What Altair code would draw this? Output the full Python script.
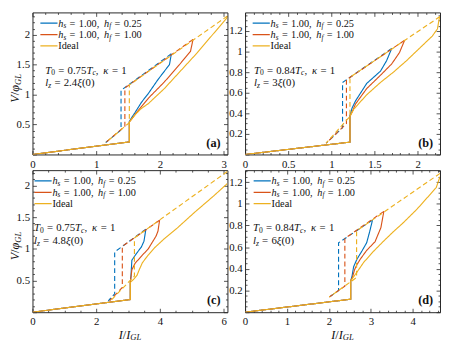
import altair as alt
import pandas as pd

# ---------------- data ----------------
# panel (a)  T0 = 0.75Tc, lz = 2.4 xi(0)
A_BLUE_I = [0, 1.52, 1.52, 1.56, 1.61, 1.71, 1.82, 1.97, 2.15, 2.18]
A_BLUE_V = [0, 0.21, 0.55, 0.62, 0.70, 0.87, 1.02, 1.25, 1.50, 1.68]
A_RED_I = [0, 1.52, 1.52, 1.57, 1.62, 1.71, 1.82, 2.07, 2.30, 2.48, 2.52]
A_RED_V = [0, 0.21, 0.54, 0.61, 0.68, 0.80, 0.94, 1.21, 1.49, 1.72, 1.92]
A_IDEAL_I = [0, 1.52, 1.52, 1.60, 1.70, 1.82, 2.07, 2.58, 3.06]
A_IDEAL_V = [0, 0.21, 0.54, 0.65, 0.76, 0.85, 1.10, 1.69, 2.29]
A_BLUE_DASH_I = [2.18, 1.39, 1.39, 1.15]
A_BLUE_DASH_V = [1.68, 1.07, 0.41, 0.20]
A_RED_DASH_I = [2.52, 1.45, 1.45, 1.15]
A_RED_DASH_V = [1.92, 1.11, 0.47, 0.20]
A_IDEAL_DASH_I = [3.06, 1.52, 1.52, 1.15]
A_IDEAL_DASH_V = [2.31, 1.16, 0.53, 0.20]

# panel (b)  T0 = 0.84Tc, lz = 3 xi(0)
B_BLUE_I = [0, 1.216, 1.216, 1.24, 1.28, 1.41, 1.57, 1.64, 1.70]
B_BLUE_V = [0, 0.12, 0.38, 0.45, 0.52, 0.69, 0.81, 0.91, 1.03]
B_RED_I = [0, 1.216, 1.216, 1.25, 1.28, 1.41, 1.57, 1.70, 1.79, 1.85]
B_RED_V = [0, 0.12, 0.37, 0.43, 0.49, 0.64, 0.77, 0.88, 0.99, 1.11]
B_IDEAL_I = [0, 1.216, 1.216, 1.26, 1.41, 1.57, 1.72, 1.87, 2.02, 2.17, 2.23, 2.255]
B_IDEAL_V = [0, 0.12, 0.37, 0.44, 0.58, 0.70, 0.80, 0.91, 1.03, 1.15, 1.22, 1.34]
B_BLUE_DASH_I = [1.70, 1.13, 1.13, 0.94]
B_BLUE_DASH_V = [1.03, 0.70, 0.26, 0.11]
B_RED_DASH_I = [1.85, 1.175, 1.175, 0.94]
B_RED_DASH_V = [1.11, 0.725, 0.30, 0.11]
B_IDEAL_DASH_I = [2.26, 1.216, 1.216, 0.94]
B_IDEAL_DASH_V = [1.34, 0.75, 0.37, 0.11]

# panel (c)  T0 = 0.75Tc, lz = 4.8 xi(0)
C_BLUE_I = [0, 3.07, 3.07, 3.09, 3.12, 3.27, 3.42, 3.50, 3.56]
C_BLUE_V = [0, 0.20, 0.47, 0.56, 0.82, 0.93, 1.03, 1.12, 1.31]
C_RED_I = [0, 3.07, 3.07, 3.09, 3.12, 3.22, 3.43, 3.63, 3.88, 3.94, 3.99]
C_RED_V = [0, 0.20, 0.47, 0.55, 0.67, 0.77, 0.89, 0.995, 1.20, 1.28, 1.45]
C_IDEAL_I = [0, 3.07, 3.07, 3.18, 3.28, 3.36, 3.45, 3.63, 3.84, 4.14, 4.55, 5.10, 5.68, 6.12]
C_IDEAL_V = [0, 0.20, 0.47, 0.52, 0.58, 0.68, 0.78, 0.90, 1.02, 1.16, 1.33, 1.58, 1.83, 2.03]
C_BLUE_DASH_I = [3.56, 2.58, 2.58, 2.38]
C_BLUE_DASH_V = [1.31, 0.95, 0.29, 0.18]
C_RED_DASH_I = [3.99, 2.82, 2.82, 2.42]
C_RED_DASH_V = [1.45, 1.04, 0.39, 0.18]
C_IDEAL_DASH_I = [6.12, 3.20, 3.20, 2.45]
C_IDEAL_DASH_V = [2.22, 1.17, 0.57, 0.18]

# panel (d)  T0 = 0.84Tc, lz = 6 xi(0)
D_BLUE_I = [0, 2.52, 2.52, 2.55, 2.59, 2.67, 2.79, 2.90, 2.97, 3.04]
D_BLUE_V = [0, 0.12, 0.29, 0.33, 0.42, 0.49, 0.566, 0.64, 0.74, 0.85]
D_RED_I = [0, 2.52, 2.52, 2.56, 2.61, 2.67, 2.75, 2.90, 3.10, 3.24, 3.31]
D_RED_V = [0, 0.12, 0.29, 0.32, 0.39, 0.44, 0.49, 0.57, 0.65, 0.78, 0.93]
D_IDEAL_I = [0, 2.52, 2.52, 2.67, 2.83, 3.06, 3.29, 3.53, 3.76, 4.10, 4.40, 4.56, 4.65]
D_IDEAL_V = [0, 0.12, 0.29, 0.37, 0.46, 0.56, 0.65, 0.74, 0.82, 0.95, 1.08, 1.15, 1.25]
D_BLUE_DASH_I = [3.04, 2.23, 2.23, 2.01]
D_BLUE_DASH_V = [0.85, 0.64, 0.20, 0.14]
D_RED_DASH_I = [3.31, 2.38, 2.38, 2.01]
D_RED_DASH_V = [0.93, 0.68, 0.24, 0.14]
D_IDEAL_DASH_I = [4.65, 2.66, 2.66, 2.01]
D_IDEAL_DASH_V = [1.28, 0.75, 0.32, 0.14]

SERIES = ["blue", "red", "ideal"]
COLORS = ["#0072BD", "#D95319", "#EDB120"]

# ---------------- styling ----------------
W, H = 199, 145
FONT = "Liberation Serif"
TXT = "#111111"
AX = "#262626"
ONE = alt.Data(values=[{}])
SUBDROP = 0.15

WID = {
    "r": {" ": 0.25, "=": 0.564, ".": 0.25, ",": 0.25, "(": 0.333, ")": 0.333,
          "/": 0.278, "I": 0.333, "d": 0.5, "e": 0.444, "a": 0.444, "l": 0.278},
    "i": {"h": 0.5, "s": 0.389, "f": 0.278, "T": 0.556, "c": 0.444, "l": 0.278,
          "z": 0.389, "V": 0.611, "I": 0.333, "G": 0.722, "L": 0.556, "/": 0.278,
          "κ": 0.5, "ξ": 0.44, "φ": 0.55},
    "b": {"(": 0.333, ")": 0.333, "a": 0.5, "b": 0.556, "c": 0.444, "d": 0.556},
}


def tw(s, fam):
    tab = WID[fam]
    return sum(tab.get(ch, 0.5) for ch in s)


def pieces(tokens, x0, y0, size, angle=0, center=False):
    items, pos = [], 0.0
    for txt, st in tokens:
        if st == "gap":
            pos += txt * size
            continue
        sub = st.startswith("s")
        fam = st[-1]
        fs = size * 0.7 if sub else size
        items.append((txt, fam, fs, pos, size * SUBDROP if sub else 0.0))
        pos += tw(txt, fam) * fs
    shift = -pos / 2 if center else 0.0
    out = []
    for txt, fam, fs, p, dy in items:
        p += shift
        if angle == 0:
            x, y = x0 + p, y0 + dy
        else:
            x, y = x0 + dy, y0 - p
        out.append(
            alt.Chart(ONE).mark_text(
                text=txt, font=FONT, fontSize=fs,
                fontStyle="italic" if fam == "i" else "normal",
                fontWeight="bold" if fam == "b" else "normal",
                align="left", baseline="alphabetic", angle=angle, color=TXT,
            ).encode(x=alt.value(x), y=alt.value(y))
        )
    return out


def steps(step, maxv, majors):
    n = int(maxv / step + 1e-9)
    vals = [round(i * step, 4) for i in range(1, n + 1)]
    return [v for v in vals if all(abs(v - m) > 1e-6 for m in majors)]


def axis_for(k, chan, major, minor, labels):
    common = dict(grid=False, domain=False, title=None, tickColor=AX, tickWidth=0.8)
    if k == 0:
        return alt.Axis(orient="bottom" if chan == "x" else "left", values=labels,
                        format="~g", labelFlush=False, labelOverlap=False,
                        ticks=False, tickSize=0,
                        labelPadding=4 if chan == "x" else 3,
                        labelFont=FONT, labelFontSize=11, labelColor=TXT, **common)
    if k >= 5:
        return None
    if k in (1, 2):
        orient = "top" if chan == "x" else "right"
    else:
        orient = "bottom" if chan == "x" else "left"
    vals = major if k in (1, 3) else minor
    size = 4 if k in (1, 3) else 2
    off = -(H if chan == "x" else W)
    return alt.Axis(orient=orient, offset=off, values=vals, labels=False,
                    ticks=True, tickSize=size, **common)


ROWS = [11.0, 22.6, 34.2]


def panel(cfg):
    xs = alt.Scale(domain=[0, cfg["xmax"]], nice=False, zero=False)
    ys = alt.Scale(domain=[0, cfg["ymax"]], nice=False, zero=False)
    cs = alt.Scale(domain=SERIES, range=COLORS)
    leg = alt.Legend(orient="none", legendX=cfg["legx"], legendY=ROWS[0] - 4.5, title=None,
                     symbolType="stroke", symbolSize=306, symbolStrokeWidth=1.3,
                     clipHeight=9, rowPadding=2.6, labelExpr="''", padding=0,
                     labelFontSize=1, labelOffset=0)
    xmin = steps(cfg["xstep"], cfg["xmax"], cfg["xmaj"])
    ymin = steps(cfg["ystep"], cfg["ymax"], cfg["ymaj"])
    layers = []
    k = 0
    for name in SERIES:
        for dashed in (False, True):
            I, V = cfg[name][1] if dashed else cfg[name][0]
            df = pd.DataFrame({"I": I, "V": V, "k": list(range(len(I))), "series": name})
            mk = alt.Chart(df).mark_line(
                clip=True, strokeWidth=1.15,
                strokeDash=[5, 3] if dashed else [1, 0],
            )
            layers.append(mk.encode(
                x=alt.X("I:Q", scale=xs, axis=axis_for(k, "x", cfg["xmaj"], xmin, cfg["xmaj"])),
                y=alt.Y("V:Q", scale=ys, axis=axis_for(k, "y", cfg["ymaj"], ymin, cfg["ymaj"][1:])),
                order=alt.Order("k:Q"),
                color=alt.Color("series:N", scale=cs, legend=leg),
            ))
            k += 1

    # legend labels
    lx = cfg["legx"] + 19.0
    fs = 10.5
    for r, hf in zip(ROWS[:2], ["0.25", "1.00"]):
        layers += pieces([("h", "i"), ("s", "si"), (0.33, "gap"), ("=", "r"), (0.33, "gap"),
                          ("1.00,", "r"), (0.45, "gap"),
                          ("h", "i"), ("f", "si"), (0.33, "gap"), ("=", "r"), (0.33, "gap"),
                          (hf, "r")],
                         lx, r + 3.6, fs)
    layers += pieces([("Ideal", "r")], lx, ROWS[2] + 3.6, fs)

    # annotation
    ax0 = cfg["annx"]
    layers += pieces([("T", "i"), ("0", "sr"), (0.3, "gap"), ("=", "r"), (0.3, "gap"),
                      (cfg["t0"], "r"), ("T", "i"), ("c", "si"), (",", "r"), (0.45, "gap"),
                      ("κ", "i"), (0.3, "gap"), ("=", "r"), (0.3, "gap"), ("1", "r")],
                     ax0, 62.5, 11)
    layers += pieces([("l", "i"), ("z", "si"), (0.3, "gap"), ("=", "r"), (0.3, "gap"),
                      (cfg["lz"], "r"), ("ξ", "i"), ("(0)", "r")], ax0, 75.5, 11)

    # panel label
    lab = "(" + cfg["key"] + ")"
    layers += pieces([(lab, "b")], W - 7 - tw(lab, "b") * 12.5, H - 8, 12.5)

    if cfg["ytitle"]:
        layers += pieces([("V", "i"), ("/", "r"), ("φ", "i"), ("GL", "si")],
                         -14, H / 2 + 5, 12.5, angle=270, center=True)
    if cfg["xtitle"]:
        layers += pieces([("I", "i"), ("/", "r"), ("I", "i"), ("GL", "si")],
                         W / 2, H + 27, 12.5, center=True)

    return alt.layer(*layers).resolve_axis(x="independent", y="independent").properties(width=W, height=H)


CFG = [
    dict(key="a", xmax=3.06, ymax=2.37, xmaj=[0, 1, 2, 3], xstep=0.2,
         ymaj=[0, 0.5, 1, 1.5, 2], ystep=0.1, legx=7.3, annx=13, t0="0.75", lz="2.4",
         ytitle=True, xtitle=False,
         blue=((A_BLUE_I, A_BLUE_V), (A_BLUE_DASH_I, A_BLUE_DASH_V)),
         red=((A_RED_I, A_RED_V), (A_RED_DASH_I, A_RED_DASH_V)),
         ideal=((A_IDEAL_I, A_IDEAL_V), (A_IDEAL_DASH_I, A_IDEAL_DASH_V))),
    dict(key="b", xmax=2.26, ymax=1.38, xmaj=[0, 0.5, 1, 1.5, 2], xstep=0.1,
         ymaj=[0, 0.2, 0.4, 0.6, 0.8, 1, 1.2], ystep=0.05, legx=7.0, annx=9, t0="0.84", lz="3",
         ytitle=False, xtitle=False,
         blue=((B_BLUE_I, B_BLUE_V), (B_BLUE_DASH_I, B_BLUE_DASH_V)),
         red=((B_RED_I, B_RED_V), (B_RED_DASH_I, B_RED_DASH_V)),
         ideal=((B_IDEAL_I, B_IDEAL_V), (B_IDEAL_DASH_I, B_IDEAL_DASH_V))),
    dict(key="c", xmax=6.12, ymax=2.24, xmaj=[0, 2, 4, 6], xstep=0.5,
         ymaj=[0, 0.5, 1, 1.5, 2], ystep=0.1, legx=1.3, annx=1.5, t0="0.75", lz="4.8",
         ytitle=True, xtitle=True,
         blue=((C_BLUE_I, C_BLUE_V), (C_BLUE_DASH_I, C_BLUE_DASH_V)),
         red=((C_RED_I, C_RED_V), (C_RED_DASH_I, C_RED_DASH_V)),
         ideal=((C_IDEAL_I, C_IDEAL_V), (C_IDEAL_DASH_I, C_IDEAL_DASH_V))),
    dict(key="d", xmax=4.65, ymax=1.31, xmaj=[0, 1, 2, 3, 4], xstep=0.2,
         ymaj=[0, 0.2, 0.4, 0.6, 0.8, 1, 1.2], ystep=0.05, legx=8.0, annx=8, t0="0.84", lz="6",
         ytitle=False, xtitle=True,
         blue=((D_BLUE_I, D_BLUE_V), (D_BLUE_DASH_I, D_BLUE_DASH_V)),
         red=((D_RED_I, D_RED_V), (D_RED_DASH_I, D_RED_DASH_V)),
         ideal=((D_IDEAL_I, D_IDEAL_V), (D_IDEAL_DASH_I, D_IDEAL_DASH_V))),
]

chart = alt.concat(
    *[panel(c) for c in CFG], columns=2,
    spacing={"row": 16, "column": 18}, bounds="flush",
).resolve_scale(x="independent", y="independent", color="independent").resolve_legend(
    color="independent"
).properties(padding=0).configure_view(stroke=AX, strokeWidth=1)

chart.save("out.html", embed_options={"renderer": "svg", "actions": False})
